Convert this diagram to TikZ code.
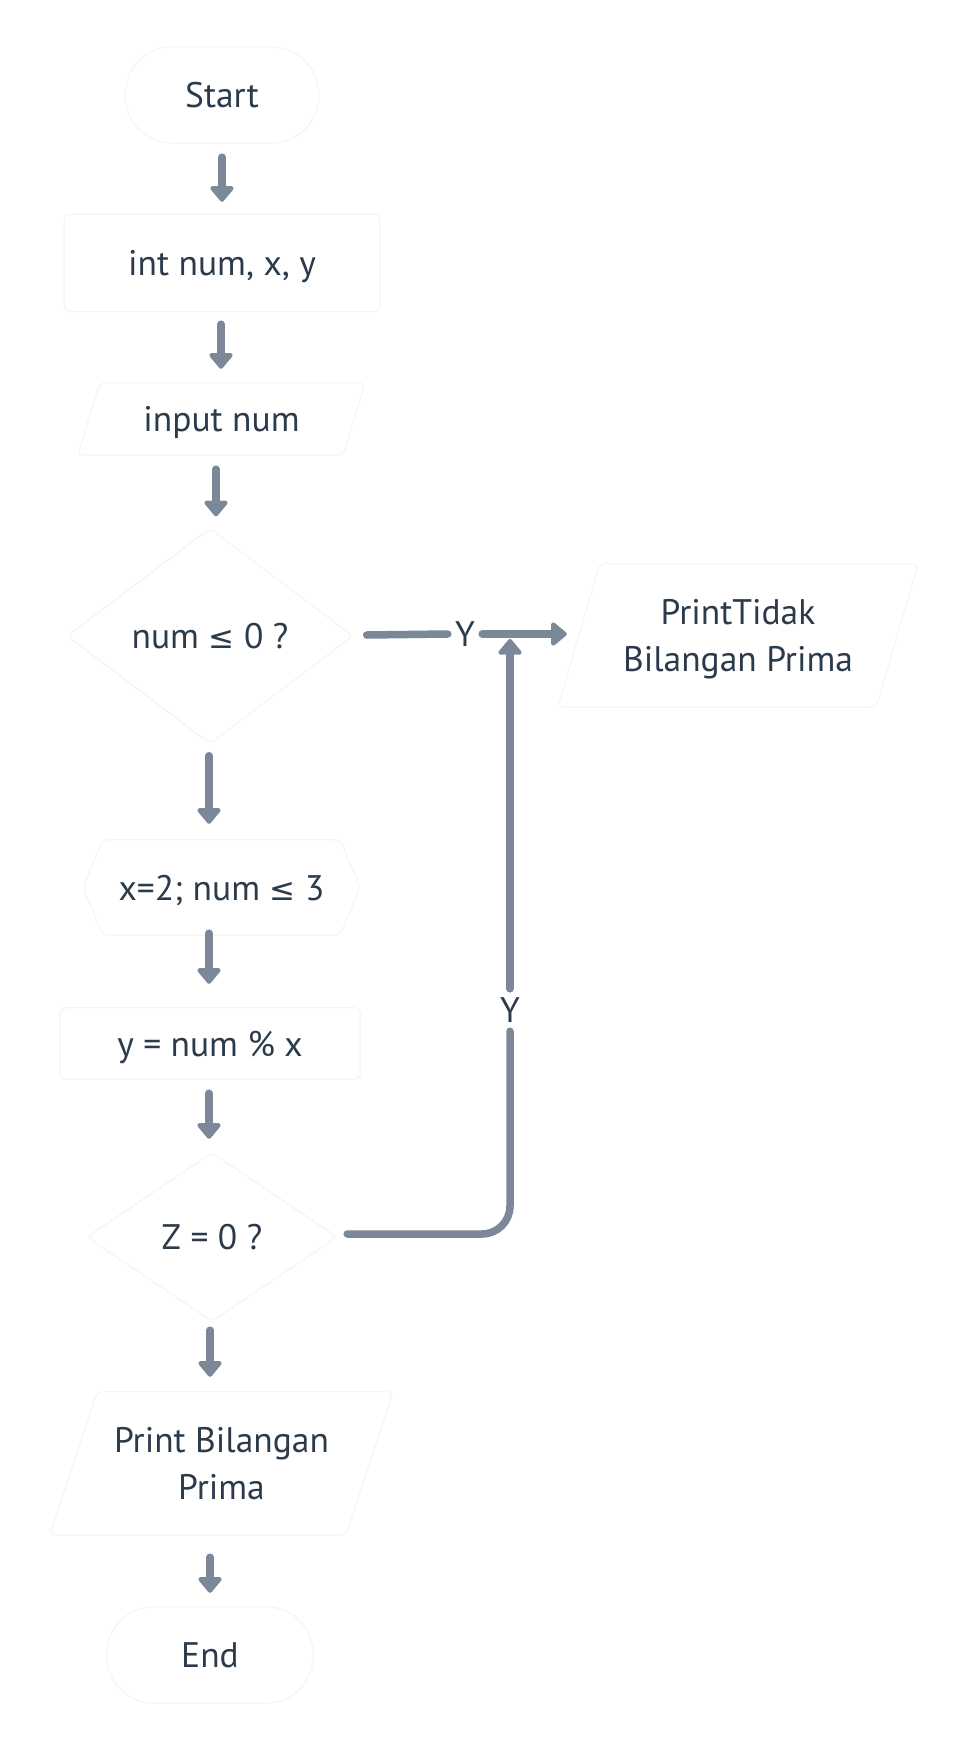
\documentclass[tikz,border=0pt]{standalone}
\usepackage{fontspec}
\setmainfont{PT Sans}
\newfontfamily\symf{DejaVu Sans}
\usetikzlibrary{arrows.meta,calc,backgrounds}
\definecolor{txtc}{HTML}{2C3B4B}
\definecolor{arrc}{HTML}{7A8897}
\newcommand{\lesym}{{\symf\fontsize{31}{47}\selectfont ≤}}
\begin{document}
\begin{tikzpicture}[x=1pt,y=-1pt,
  box/.style={inner sep=0pt, text=txtc, align=center, text depth=0pt, font=\fontsize{35.5}{47}\selectfont},
  shp/.style={fill=white, draw=black!4, line width=1.2pt},
  ln/.style={draw=arrc, line width=7.5pt, line cap=round},
  arr/.style={ln, -{Triangle[width=27pt,length=17pt,round]}},
  lbl/.style={inner sep=0pt, text=txtc, minimum width=34pt, minimum height=44pt, font=\fontsize{35.5}{40}\selectfont}
]
\useasboundingbox (0,0) rectangle (966,1752);

\node[box, minimum width=193pt, minimum height=96pt] (start) at (222,95) {Start};
\node[box, minimum width=315pt, minimum height=97pt] (int) at (222,263) {int num, x, y};
\node[box, minimum width=287pt, minimum height=72pt] (inp) at (221.5,419) {input num};
\node[box, minimum width=285pt, minimum height=215pt] (d1) at (210,636) {num \lesym{} 0 ?};
\node[box, minimum width=277pt, minimum height=95pt] (hex) at (221.5,887.5) {x=2; num \lesym{} 3};
\node[box, minimum width=300pt, minimum height=71pt] (rect) at (210,1043.5) {y = num \% x};
\node[box, minimum width=250pt, minimum height=168pt] (d2) at (212,1237) {Z = 0 ?};
\node[box, minimum width=360pt, minimum height=143pt] (ptidak) at (738,635.5) {PrintTidak\\Bilangan Prima};
\node[box, minimum width=343pt, minimum height=143pt] (pprima) at (221.5,1463.5) {Print Bilangan\\Prima};
\node[box, minimum width=206pt, minimum height=96pt] (end) at (210,1655) {End};

\node[lbl] (y1) at (465,634) {Y};
\node[lbl, minimum height=42pt] (y2) at (510,1010) {Y};
\coordinate (join) at (510,639);

\begin{scope}[on background layer]
  \path[shp, rounded corners=47pt] (start.north west) rectangle (start.south east);
  \path[shp, rounded corners=5pt] (int.north west) rectangle (int.south east);
  \path[shp, rounded corners=6pt] ($(inp.north west)+(22,0)$) -- (inp.north east) -- ($(inp.south east)+(-22,0)$) -- (inp.south west) -- cycle;
  \path[shp, rounded corners=5pt] (d1.north) -- (d1.east) -- (d1.south) -- (d1.west) -- cycle;
  \path[shp, rounded corners=6pt] (hex.west) -- ($(hex.north west)+(20,0)$) -- ($(hex.north east)+(-20,0)$) -- (hex.east) -- ($(hex.south east)+(-20,0)$) -- ($(hex.south west)+(20,0)$) -- cycle;
  \path[shp, rounded corners=5pt] (rect.north west) rectangle (rect.south east);
  \path[shp, rounded corners=5pt] (d2.north) -- (d2.east) -- (d2.south) -- (d2.west) -- cycle;
  \path[shp, rounded corners=6pt] ($(ptidak.north west)+(42,0)$) -- (ptidak.north east) -- ($(ptidak.south east)+(-42,0)$) -- (ptidak.south west) -- cycle;
  \path[shp, rounded corners=6pt] ($(pprima.north west)+(47,0)$) -- (pprima.north east) -- ($(pprima.south east)+(-47,0)$) -- (pprima.south west) -- cycle;
  \path[shp, rounded corners=47pt] (end.north west) rectangle (end.south east);
\end{scope}

\draw[arr] ($(start.south)+(0,14)$) -- ($(int.north)+(0,-12.5)$);
\draw[arr] ($(int.south)+(-1,12.5)$) -- ($(inp.north)+(-0.5,-14)$);
\draw[arr] ($(inp.south)+(-5.5,14)$) -- ($(d1.north)+(6,-12)$);
\draw[arr] ($(d1.south)+(-1,12)$) -- ($(hex.north)+(-12.5,-16)$);
\draw[arr] ($(hex.south)+(-12.5,-2)$) -- ($(rect.north)+(-1,-24)$);
\draw[arr] ($(rect.south)+(-1,14)$) -- ($(d2.north)+(-3,-14)$);
\draw[arr] ($(d2.south)+(-2,9)$) -- ($(pprima.north)+(-11.5,-15)$);
\draw[arr] ($(pprima.south)+(-11.5,22)$) -- ($(end.north)+(0,-14)$);

\draw[ln] ($(d1.east)+(14,-1)$) -- (y1.west);
\draw[arr] (y1.east) -- ($(ptidak.west)+(9,-1.5)$);
\draw[ln, rounded corners=28pt] ($(d2.east)+(10,-3)$) -| (y2.south);
\draw[arr] (y2.north) -- (join);
\end{tikzpicture}
\end{document}
